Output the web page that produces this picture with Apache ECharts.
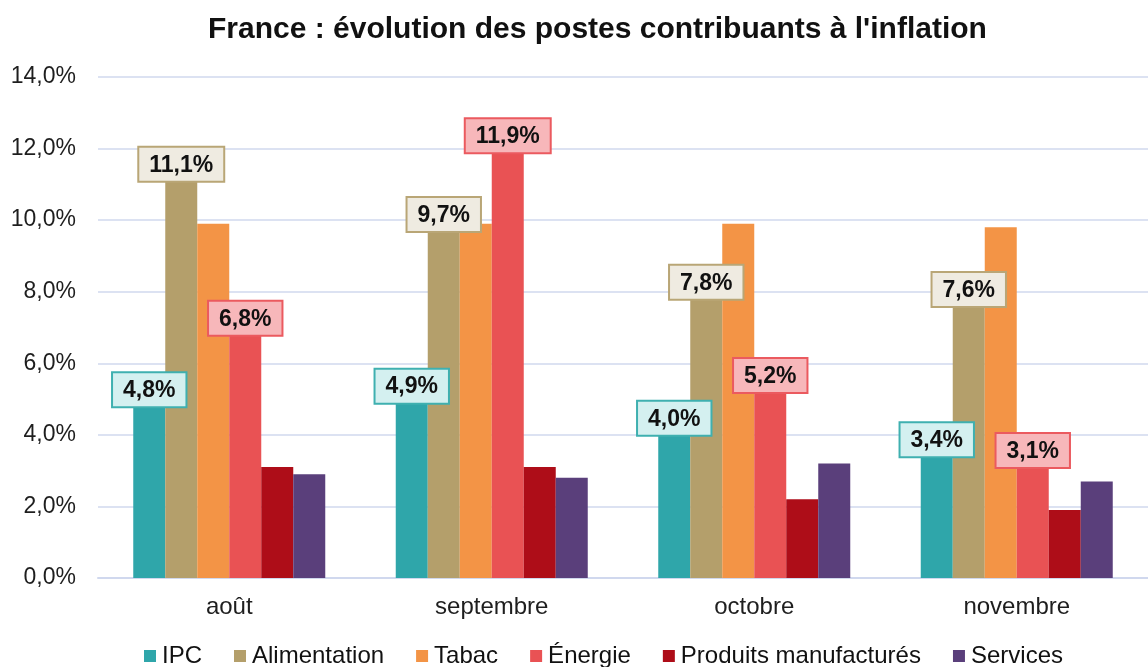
<!DOCTYPE html>
<html>
<head>
<meta charset="utf-8">
<script src="https://cdn.jsdelivr.net/npm/echarts@6/dist/echarts.min.js"></script>
<style>
  html, body { margin: 0; padding: 0; background: #fff; }
  #chart { width: 1148px; height: 667px; }
</style>
</head>
<body>
<div id="chart"></div>
<script>
// mois
var months = ['août', 'septembre', 'octobre', 'novembre'];
// valeurs (%)
var ipc = [4.8, 4.9, 4.0, 3.4];
var alimentation = [11.1, 9.7, 7.8, 7.6];
var tabac = [9.9, 9.9, 9.9, 9.8];
var energie = [6.8, 11.9, 5.2, 3.1];
var produits = [3.1, 3.1, 2.2, 1.9];
var services = [2.9, 2.8, 3.2, 2.7];

var fontFam = '"Liberation Sans", Arial, sans-serif';

function pct(v) {
  return v.toFixed(1).replace('.', ',') + '%';
}

// etiquette encadree au dessus de la barre
function boxLabel(bg, border) {
  return {
    show: true,
    position: 'top',
    distance: 0,
    formatter: function (p) { return pct(p.value); },
    fontFamily: fontFam,
    fontSize: 23,
    fontWeight: 'bold',
    color: '#111',
    backgroundColor: bg,
    borderColor: border,
    borderWidth: 2,
    padding: [6, 10, 4, 10]
  };
}

function bar(name, data, color, label) {
  var s = {
    name: name,
    type: 'bar',
    data: data,
    barWidth: 32,
    barGap: '0%',
    itemStyle: { color: color },
    emphasis: { disabled: true }
  };
  if (label) s.label = label;
  return s;
}

var myChart = echarts.init(document.getElementById('chart'));

var option = {
  animation: false,
  title: {
    text: "France : évolution des postes contribuants à l'inflation",
    left: 203,
    top: 10,
    textStyle: {
      fontFamily: fontFam,
      fontSize: 30,
      fontWeight: 'bold',
      color: '#111'
    }
  },
  legend: {
    bottom: -6,
    left: 139,
    itemWidth: 12,
    itemHeight: 12,
    itemGap: 32,
    icon: 'rect',
    textStyle: {
      fontFamily: fontFam,
      fontSize: 24,
      color: '#111',
      padding: [0, 0, 0, 1]
    },
    data: ['IPC', 'Alimentation', 'Tabac', 'Énergie', 'Produits manufacturés', 'Services']
  },
  grid: {
    left: 98,
    top: 77,
    width: 1060,
    height: 501
  },
  xAxis: {
    type: 'category',
    data: months,
    axisLine: { lineStyle: { color: '#d0d8ee', width: 2 } },
    axisTick: { show: false },
    axisLabel: {
      margin: 17,
      fontFamily: fontFam,
      fontSize: 24,
      color: '#1e1e1e'
    }
  },
  yAxis: {
    type: 'value',
    min: 0,
    max: 14,
    interval: 2,
    axisLine: { show: false },
    axisTick: { show: false },
    splitLine: { lineStyle: { color: '#d0d8ee', width: 1.5 } },
    axisLabel: {
      margin: 22,
      fontFamily: fontFam,
      fontSize: 23,
      color: '#1e1e1e',
      formatter: function (v) { return pct(v); }
    }
  },
  series: [
    bar('IPC', ipc, '#2fa6aa', boxLabel('#d4f0f0', '#3fb0b0')),
    bar('Alimentation', alimentation, '#b49f6b', boxLabel('#efebe1', '#b9a676')),
    bar('Tabac', tabac, '#f39446'),
    bar('Énergie', energie, '#e95254', boxLabel('#f7b7ba', '#eb5a5f')),
    bar('Produits manufacturés', produits, '#ae0d18'),
    bar('Services', services, '#5a3f7b')
  ]
};

myChart.setOption(option);
window.addEventListener('resize', function () {
  myChart.resize();
});
</script>
</body>
</html>
